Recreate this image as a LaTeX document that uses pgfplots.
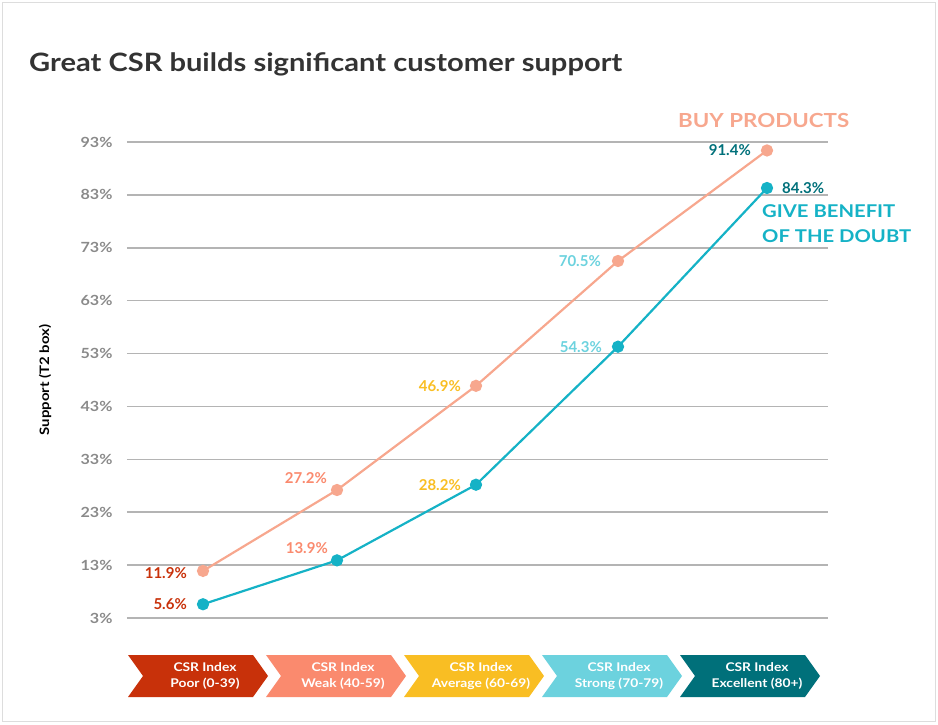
\documentclass[border=0pt]{standalone}
\usepackage{pgfplots}
\pgfplotsset{compat=1.18}
\usepackage{fontspec}
\setmainfont{Lato}[FakeStretch=1.15]
\newfontfamily\plainlato{Lato}
\definecolor{cpoor}{HTML}{C8310A}
\definecolor{cweak}{HTML}{FA8A6E}
\definecolor{cavg}{HTML}{F9BE23}
\definecolor{cstrong}{HTML}{6CD2DE}
\definecolor{cexc}{HTML}{00707A}
\definecolor{cbuy}{HTML}{F7A78E}
\definecolor{cgive}{HTML}{15B2C6}
\definecolor{gridgray}{HTML}{B4B4B4}
\definecolor{tickgray}{HTML}{8A8A8A}
\definecolor{titlegray}{HTML}{333333}
\definecolor{framegray}{HTML}{DDDDDD}
\newcommand{\lbl}{\plainlato\fontsize{15}{18}\selectfont\bfseries}
\begin{document}
\begin{tikzpicture}[x=1pt,y=1pt]
\useasboundingbox (0,0) rectangle (938,724);
\draw[framegray, line width=1.5pt] (2.5,2.5) rectangle (935.5,721.5);
\node[anchor=base west, inner sep=0, text=titlegray, font=\fontsize{25.3}{30}\selectfont\bfseries] at (29,652) {Great CSR builds significant customer support};
\node[rotate=90, inner sep=0, font=\fontsize{13}{15}\selectfont\bfseries] at (45,344) {Support (T2 box)};
% chevrons
\foreach \L/\c/\a/\b in {128/cpoor/CSR Index/Poor (0-39), 266/cweak/CSR Index/Weak (40-59), 404/cavg/CSR Index/Average (60-69), 542/cstrong/CSR Index/Strong (70-79), 680/cexc/CSR Index/Excellent (80+)} {
  \fill[\c] (\L,69) -- ({\L+125},69) -- ({\L+140},48) -- ({\L+125},27) -- (\L,27) -- ({\L+15},48) -- cycle;
  \node[text=white, align=center, inner sep=0, font=\fontsize{12}{16}\selectfont\bfseries] at ({\L+77},48) {\a\\\b};
}
\begin{axis}[at={(127pt,106pt)}, anchor=south west, scale only axis,
  width=701pt, height=476pt, xmin=127, xmax=828, ymin=3, ymax=93,
  axis line style={draw=none}, ytick={3,13,...,93}, xtick=\empty,
  ymajorgrids, grid style={gridgray, line width=1.5pt}, major tick length=0pt,
  yticklabel={\pgfmathprintnumber{\tick}\%},
  yticklabel style={font=\fontsize{14}{16}\selectfont\bfseries, text=tickgray, xshift=-11pt},
  /pgf/number format/assume math mode=true, clip=false]
\addplot[cbuy, line width=2.2pt, mark=*, mark size=5pt, mark options={fill=cbuy, draw=none}] coordinates {(203,11.9) (337,27.2) (476,46.9) (618,70.5) (767,91.4)};
\addplot[cgive, line width=2.2pt, mark=*, mark size=5pt, mark options={fill=cgive, draw=none}] coordinates {(203,5.6) (337,13.9) (476,28.2) (618,54.3) (767,84.3)};
\node[anchor=east, inner sep=0, text=cpoor, font=\lbl, xshift=-16pt, yshift=-2pt] at (axis cs:203,11.9) {11.9\%};
\node[anchor=east, inner sep=0, text=cpoor, font=\lbl, xshift=-16pt] at (axis cs:203,5.6) {5.6\%};
\node[anchor=east, inner sep=0, text=cweak, font=\lbl, xshift=-10pt, yshift=12pt] at (axis cs:337,27.2) {27.2\%};
\node[anchor=east, inner sep=0, text=cweak, font=\lbl, xshift=-9pt, yshift=12pt] at (axis cs:337,13.9) {13.9\%};
\node[anchor=east, inner sep=0, text=cavg, font=\lbl, xshift=-15pt] at (axis cs:476,46.9) {46.9\%};
\node[anchor=east, inner sep=0, text=cavg, font=\lbl, xshift=-15pt] at (axis cs:476,28.2) {28.2\%};
\node[anchor=east, inner sep=0, text=cstrong, font=\lbl, xshift=-17pt] at (axis cs:618,70.5) {70.5\%};
\node[anchor=east, inner sep=0, text=cstrong, font=\lbl, xshift=-16pt] at (axis cs:618,54.3) {54.3\%};
\node[anchor=east, inner sep=0, text=cexc, font=\lbl, xshift=-16pt] at (axis cs:767,91.4) {91.4\%};
\node[anchor=west, inner sep=0, text=cexc, font=\lbl, xshift=15pt] at (axis cs:767,84.3) {84.3\%};
\end{axis}
\node[anchor=west, inner sep=0, text=cbuy, font=\fontsize{19.4}{24}\selectfont\bfseries] at (678,604) {BUY PRODUCTS};
\node[anchor=north west, inner sep=0, text=cgive, align=left, font=\fontsize{17.6}{25}\selectfont\bfseries] at (762,520) {GIVE BENEFIT\\OF THE DOUBT};
\end{tikzpicture}
\end{document}
